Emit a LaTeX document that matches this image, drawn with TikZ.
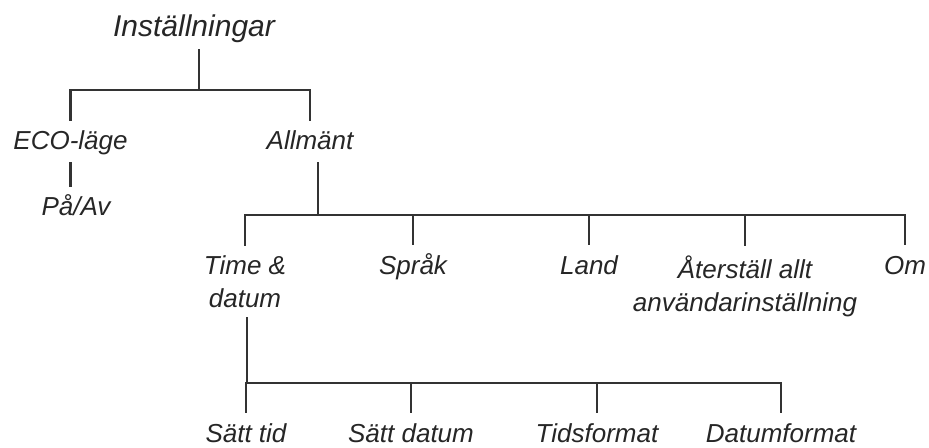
\documentclass[tikz,border=0pt]{standalone}
\usepackage{fontspec}
\setmainfont{Liberation Sans}
\usepackage{xcolor}
\usepackage{tikz}
\usetikzlibrary{positioning, calc}
\definecolor{linecol}{HTML}{333333}
\definecolor{inkcol}{HTML}{262626}

\begin{document}
\begin{tikzpicture}[
  x=0.5pt, y=-0.5pt,
  every node/.style={text=inkcol, inner sep=0pt},
  head/.style={font=\itshape\fontsize{15}{18}\selectfont, anchor=base,
               text height=14.5pt, text depth=6pt},
  leaf/.style={font=\itshape\fontsize{13}{16.5}\selectfont, anchor=base,
               text height=14.5pt, text depth=6pt},
  pair/.style={font=\itshape\fontsize{13}{16.5}\selectfont, anchor=north,
               align=center, inner ysep=4.6pt},
  link/.style={draw=linecol, line width=1.3pt},
]
  \useasboundingbox (0,0) rectangle (929,448);

  \node[head] (root) at (194,37) {Inställningar};
  \node[leaf] (eco) at (70.5,150) {ECO-läge};
  \node[leaf] (general) at (310,150) {Allmänt};
  \node[leaf] (onoff) at (76,216) {På/Av};

  \node[pair] (timedate) at (245,246) {Time \&\\datum};
  \node[leaf] (lang) at (413,274) {Språk};
  \node[leaf] (country) at (589,274) {Land};
  \node[pair] (reset) at (745,246) {Återställ allt\\användarinställning};
  \node[leaf] (about) at (905,274) {Om};

  \node[leaf] (settime) at (246,442) {Sätt tid};
  \node[leaf] (setdate) at (411,442) {Sätt datum};
  \node[leaf] (timefmt) at (597,442) {Tidsformat};
  \node[leaf] (datefmt) at (781,442) {Datumformat};

  \coordinate (bus1) at (199,90);
  \coordinate (bus2) at (318,215);
  \coordinate (bus3) at (247,383);

  \draw[link] (root.south -| bus1) -- (bus1);
  \draw[link] (eco.north) |- (bus1) -| (general.north);
  \draw[link] (eco.south) -- (eco.south |- onoff.north);

  \draw[link] (general.south -| bus2) -- (bus2);
  \draw[link] (timedate.north) |- (bus2) -| (about.north);
  \foreach \n in {lang, country, reset}
    \draw[link] (\n.north) -- (\n.north |- bus2);

  \draw[link] (timedate.south -| bus3) -- (bus3);
  \draw[link] (settime.north) |- (bus3) -| (datefmt.north);
  \foreach \n in {setdate, timefmt}
    \draw[link] (\n.north) -- (\n.north |- bus3);
\end{tikzpicture}
\end{document}
